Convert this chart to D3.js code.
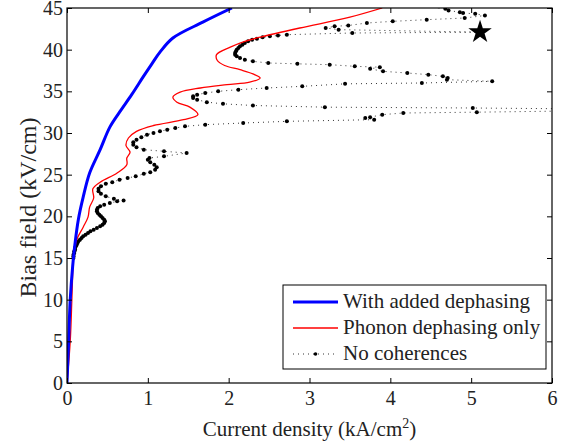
<!DOCTYPE html>
<html>
<head>
<meta charset="utf-8">
<script src="https://cdn.jsdelivr.net/npm/d3@7"></script>
<style>
body { margin: 0; background: #fff; }
</style>
</head>
<body>
<div id="plot"></div>
<script>
// [current density kA/cm^2, bias field kV/cm]
const addedDephasing = [
    [0, 0], [0.02, 5], [0.04, 10], [0.07, 14], [0.10, 16.8], [0.14, 19.6],
    [0.20, 22.3], [0.28, 25.2], [0.41, 28], [0.53, 30.7], [0.65, 32.5],
    [0.80, 34.6], [0.94, 36.7], [1.05, 38.3], [1.15, 39.7], [1.31, 41.4],
    [1.68, 43.3], [2.04, 45]
];

const phononOnly = [
    [0, 0], [0.04, 5], [0.06, 10], [0.07, 13], [0.08, 15], [0.12, 17.2],
    [0.20, 18.7], [0.26, 19.9], [0.28, 21.1], [0.33, 22.2], [0.32, 23.3],
    [0.41, 24.1], [0.62, 25.2], [0.74, 26.2], [0.74, 27.0], [0.78, 27.7],
    [0.73, 28.5], [0.76, 29.4], [0.86, 30.2], [1.07, 30.9], [1.44, 31.6],
    [1.62, 32.2], [1.52, 33.1], [1.36, 33.7], [1.31, 34.3], [1.40, 34.9],
    [1.65, 35.4], [1.98, 35.8], [2.26, 36.1], [2.39, 36.6], [2.30, 37.1],
    [2.14, 37.6], [1.95, 38.1], [1.86, 38.7], [1.85, 39.4], [2.02, 40.3],
    [2.20, 41.0], [2.39, 41.5], [2.88, 42.6], [3.50, 43.9], [3.90, 45]
];

const noCoherences = [
    [0.08, 15.0], [0.08, 15.2], [0.08, 15.4], [0.09, 15.6], [0.09, 15.8],
    [0.10, 16.0], [0.10, 16.2], [0.11, 16.4], [0.12, 16.6], [0.13, 16.8],
    [0.14, 17.0], [0.16, 17.2], [0.18, 17.4], [0.20, 17.6], [0.23, 17.8],
    [0.26, 18.0], [0.29, 18.2], [0.33, 18.4], [0.37, 18.6], [0.41, 18.8],
    [0.44, 19.0], [0.46, 19.2], [0.47, 19.4], [0.46, 19.6], [0.44, 19.8],
    [0.42, 20.0], [0.40, 20.2], [0.38, 20.4], [0.37, 20.6], [0.37, 20.8],
    [0.38, 21.0], [0.41, 21.2], [0.46, 21.4], [0.53, 21.6], [0.62, 21.8],
    [0.70, 21.9], [0.58, 22.1], [0.48, 22.4], [0.42, 22.7], [0.39, 23.0],
    [0.39, 23.3], [0.42, 23.6], [0.48, 23.9], [0.56, 24.1], [0.65, 24.4],
    [0.75, 24.6], [0.85, 24.8], [0.95, 25.1], [1.03, 25.3], [1.09, 25.6],
    [1.11, 25.9], [1.08, 26.2], [1.03, 26.5], [1.00, 26.8], [1.02, 27.0],
    [1.20, 27.2], [1.48, 27.6], [1.20, 27.8], [0.95, 28.0], [0.86, 28.3],
    [0.82, 28.6], [0.82, 28.9], [0.86, 29.2], [0.92, 29.5], [0.99, 29.8],
    [1.07, 30.0], [1.15, 30.2], [1.24, 30.4], [1.34, 30.6], [1.46, 30.8],
    [1.71, 31.0], [2.18, 31.2], [2.72, 31.4], [3.80, 31.6], [3.69, 31.8],
    [3.75, 31.9], [3.90, 32.2], [4.16, 32.4], [5.07, 32.5], [7.50, 32.8],
    [5.02, 33.0], [3.19, 33.1], [2.30, 33.3], [1.93, 33.5], [1.73, 33.7],
    [1.61, 34.0], [1.56, 34.2], [1.56, 34.4], [1.61, 34.6], [1.71, 34.8],
    [1.87, 35.0], [2.12, 35.2], [2.47, 35.4], [2.91, 35.6], [3.44, 35.9],
    [4.39, 36.0], [5.26, 36.2], [4.70, 36.4], [4.71, 36.6], [4.65, 36.8],
    [4.47, 37.0], [4.21, 37.2], [3.91, 37.4], [3.75, 37.7], [3.87, 37.9],
    [3.56, 38.0], [3.25, 38.2], [2.85, 38.3], [2.49, 38.4], [2.30, 38.6],
    [2.20, 38.8], [2.14, 39.0], [2.10, 39.2], [2.08, 39.4], [2.08, 39.6],
    [2.09, 39.8], [2.10, 40.0], [2.12, 40.2], [2.14, 40.4], [2.17, 40.6],
    [2.20, 40.8], [2.24, 41.0], [2.29, 41.2], [2.35, 41.3], [2.42, 41.5],
    [2.51, 41.6], [2.61, 41.7], [2.72, 41.8], [3.53, 42.0], [5.11, 42.1],
    [3.36, 42.4], [3.20, 42.6], [3.31, 42.8], [3.48, 42.9], [3.71, 43.2],
    [4.03, 43.4], [4.45, 43.6], [4.92, 43.8], [5.17, 44.1], [5.05, 44.3],
    [4.90, 44.4], [4.86, 44.5], [4.72, 44.7], [4.68, 44.9], [4.60, 45.2]
];

const starPoint = [[5.11, 42.1]];

const xTicks = [0, 1, 2, 3, 4, 5, 6];
const yTicks = [0, 5, 10, 15, 20, 25, 30, 35, 40, 45];
const legendLabels = ["With added dephasing", "Phonon dephasing only", "No coherences"];

const serif = "'Liberation Serif', 'Times New Roman', Times, 'DejaVu Serif', serif";

const margin = {top: 8, right: 20, bottom: 61, left: 67},
    width = 572 - margin.left - margin.right,
    height = 444 - margin.top - margin.bottom;

const svg = d3.select("#plot")
    .append("svg")
    .attr("width", 572)
    .attr("height", 444)
    .append("g")
    .attr("transform", `translate(${margin.left},${margin.top})`);

const x = d3.scaleLinear().domain([0, 6]).range([0, width]);
const y = d3.scaleLinear().domain([0, 45]).range([height, 0]);

svg.append("defs").append("clipPath")
    .attr("id", "clip")
    .append("rect")
    .attr("width", width)
    .attr("height", height);

const plot = svg.append("g").attr("clip-path", "url(#clip)");

const line = d3.line()
    .x(d => x(d[0]))
    .y(d => y(d[1]));

// black dotted series first, so the lines sit on top
plot.append("path")
    .datum(noCoherences)
    .attr("fill", "none")
    .attr("stroke", "#000")
    .attr("stroke-width", 0.8)
    .attr("stroke-dasharray", "1,4")
    .attr("d", line);

plot.selectAll(".dot")
    .data(noCoherences)
    .enter().append("circle")
    .attr("class", "dot")
    .attr("r", 2)
    .attr("cx", d => x(d[0]))
    .attr("cy", d => y(d[1]))
    .attr("fill", "#000");

plot.append("path")
    .datum(phononOnly)
    .attr("fill", "none")
    .attr("stroke", "#ff0000")
    .attr("stroke-width", 1.3)
    .attr("d", line.curve(d3.curveCatmullRom));

plot.append("path")
    .datum(addedDephasing)
    .attr("fill", "none")
    .attr("stroke", "#0000ff")
    .attr("stroke-width", 3)
    .attr("d", line.curve(d3.curveCatmullRom));

plot.selectAll(".star")
    .data(starPoint)
    .enter().append("path")
    .attr("class", "star")
    .attr("transform", d => `translate(${x(d[0])},${y(d[1])})`)
    .attr("d", d3.symbol().type(d3.symbolStar).size(170))
    .attr("fill", "#000");

// axes: ticks inward on all four sides
const tickLen = 5;
const styleTicks = g => g.selectAll("text")
    .attr("font-family", serif)
    .style("font-family", serif)
    .style("font-size", "20px")
    .attr("fill", "#222");

svg.append("g")
    .attr("transform", `translate(0,${height})`)
    .call(d3.axisBottom(x).tickValues(xTicks).tickFormat(d3.format("d"))
        .tickSizeInner(-tickLen).tickSizeOuter(0).tickPadding(8))
    .call(styleTicks);
svg.append("g")
    .call(d3.axisLeft(y).tickValues(yTicks).tickFormat(d3.format("d"))
        .tickSizeInner(-tickLen).tickSizeOuter(0).tickPadding(4))
    .call(styleTicks);
svg.append("g")
    .call(d3.axisTop(x).tickValues(xTicks).tickSizeInner(-tickLen).tickSizeOuter(0).tickFormat(""));
svg.append("g")
    .attr("transform", `translate(${width},0)`)
    .call(d3.axisRight(y).tickValues(yTicks).tickSizeInner(-tickLen).tickSizeOuter(0).tickFormat(""));
svg.selectAll(".domain").remove();

svg.append("rect")
    .attr("width", width)
    .attr("height", height)
    .attr("fill", "none")
    .attr("stroke", "#000")
    .attr("stroke-width", 1.2);

// axis titles
const xt = svg.append("text")
    .attr("x", width / 2)
    .attr("y", height + 53)
    .attr("text-anchor", "middle")
    .style("font-family", serif)
    .style("font-size", "21px")
    .attr("fill", "#222");
xt.append("tspan").text("Current density (kA/cm");
xt.append("tspan").attr("dy", -8).style("font-size", "14px").text("2");
xt.append("tspan").attr("dy", 8).text(")");

svg.append("text")
    .attr("transform", "rotate(-90)")
    .attr("x", -(height / 2 + 12))
    .attr("y", -margin.left + 36)
    .attr("text-anchor", "middle")
    .style("font-family", serif)
    .style("font-size", "24px")
    .attr("fill", "#222")
    .text("Bias field (kV/cm)");

// legend
const legend = svg.append("g").attr("transform", `translate(${283 - margin.left},${285 - margin.top})`);
legend.append("rect")
    .attr("width", 263)
    .attr("height", 84)
    .attr("fill", "#fff")
    .attr("stroke", "#000")
    .attr("stroke-width", 1);

const rowY = [17, 43, 69];
legendLabels.forEach((label, i) => {
    const g = legend.append("g").attr("transform", `translate(0,${rowY[i]})`);
    if (i === 0) {
        g.append("line").attr("x1", 10).attr("x2", 55).attr("stroke", "#0000ff").attr("stroke-width", 3);
    } else if (i === 1) {
        g.append("line").attr("x1", 10).attr("x2", 55).attr("stroke", "#ff0000").attr("stroke-width", 1.3);
    } else {
        g.append("line").attr("x1", 10).attr("x2", 55).attr("stroke", "#000")
            .attr("stroke-width", 0.8).attr("stroke-dasharray", "1,4");
        g.append("circle").attr("cx", 32.5).attr("r", 1.8).attr("fill", "#000");
    }
    g.append("text")
        .attr("x", 60)
        .attr("y", 6)
        .style("font-family", serif)
        .style("font-size", "21px")
        .attr("fill", "#222")
        .text(label);
});
</script>
</body>
</html>
